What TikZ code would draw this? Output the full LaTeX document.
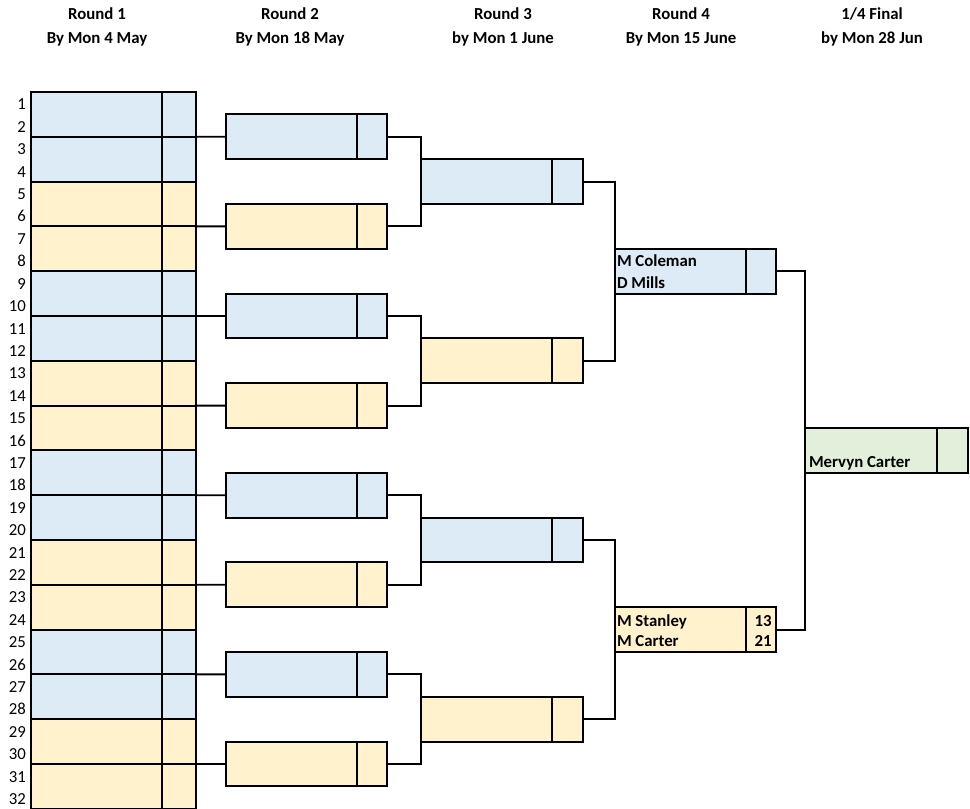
\documentclass[tikz,border=0pt]{standalone}
\usepackage{fontspec}
\setmainfont{Carlito}
\definecolor{cblue}{HTML}{DDEBF7}
\definecolor{cyel}{HTML}{FFF2CC}
\definecolor{cgreen}{HTML}{E2EFDA}
\begin{document}
\begin{tikzpicture}[x=0.75pt,y=-0.75pt,line width=1.4pt,
  cell/.style={draw=black,inner sep=0pt,outer sep=0pt,minimum height=44.8*0.75pt,anchor=west},
  txt/.style={inner sep=0pt,outer sep=0pt,font=\fontsize{12.6}{15}\selectfont},
  btxt/.style={txt,font=\fontsize{12.6}{15}\selectfont\bfseries},
  link/.style={draw=black,line width=1.4pt}]
\useasboundingbox (0,0) rectangle (970,809);

% headers
\node[btxt,anchor=base,name=h1a] at (97,20) {Round 1};
\node[btxt,anchor=base,name=h1b] at (97,43.3) {By Mon 4 May};
\node[btxt,anchor=base,name=h2a] at (290,20) {Round 2};
\node[btxt,anchor=base,name=h2b] at (290,43.3) {By Mon 18 May};
\node[btxt,anchor=base,name=h3a] at (503,20) {Round 3};
\node[btxt,anchor=base,name=h3b] at (503,43.3) {by Mon 1 June};
\node[btxt,anchor=base,name=h4a] at (681,20) {Round 4};
\node[btxt,anchor=base,name=h4b] at (681,43.3) {By Mon 15 June};
\node[btxt,anchor=base,name=h5a] at (872,20) {1/4 Final};
\node[btxt,anchor=base,name=h5b] at (872,43.3) {by Mon 28 Jun};

% row numbers
\foreach \i in {1,...,32}
  \node[txt,anchor=base east,name=rn\i] at (26,{87.6+\i*22.4}) {\i};

% round 1
\foreach \k in {1,...,16}{
  \pgfmathtruncatemacro\g{floor((\k-1)/2)}
  \ifodd\g\def\fc{cyel}\else\def\fc{cblue}\fi
  \node[cell,fill=\fc,minimum width=131*0.75pt,name=r1n\k] at (31,{92+(\k-0.5)*44.8}) {};
  \node[cell,fill=\fc,minimum width=34*0.75pt,name=r1s\k] at (r1n\k.east) {};
}

% round 2
\foreach \k in {1,...,8}{
  \ifodd\k\def\fc{cblue}\else\def\fc{cyel}\fi
  \node[cell,fill=\fc,minimum width=131*0.75pt,name=r2n\k] at (226,{92+(2*\k-1)*44.8}) {};
  \node[cell,fill=\fc,minimum width=30*0.75pt,name=r2s\k] at (r2n\k.east) {};
}

% round 3
\foreach \k in {1,...,4}{
  \ifodd\k\def\fc{cblue}\else\def\fc{cyel}\fi
  \node[cell,fill=\fc,minimum width=131*0.75pt,name=r3n\k] at (421,{92+(4*\k-2)*44.8}) {};
  \node[cell,fill=\fc,minimum width=31*0.75pt,name=r3s\k] at (r3n\k.east) {};
}

% round 4
\node[cell,fill=cblue,minimum width=130.7*0.75pt,name=r4n1] at (615,{92+4*44.8}) {};
\node[cell,fill=cblue,minimum width=30.3*0.75pt,name=r4s1] at (r4n1.east) {};
\node[cell,fill=cyel,minimum width=130.7*0.75pt,name=r4n2] at (615,{92+12*44.8}) {};
\node[cell,fill=cyel,minimum width=30.3*0.75pt,name=r4s2] at (r4n2.east) {};

% final
\node[cell,fill=cgreen,minimum width=132*0.75pt,name=fn] at (805,{92+8*44.8}) {};
\node[cell,fill=cgreen,minimum width=31*0.75pt,name=fs] at (fn.east) {};

% connectors round 1 -> round 2
\foreach \k in {1,...,8}{
  \pgfmathtruncatemacro\a{2*\k-1}
  \draw[link] (r1s\a.south east) -- (r2n\k.west);
}
% round 2 -> round 3
\foreach \k in {1,...,4}{
  \pgfmathtruncatemacro\a{2*\k-1}
  \pgfmathtruncatemacro\b{2*\k}
  \draw[link] (r2s\a.east) -| (r3n\k.west |- r2s\b.east) -- (r2s\b.east);
}
% round 3 -> round 4
\foreach \k in {1,2}{
  \pgfmathtruncatemacro\a{2*\k-1}
  \pgfmathtruncatemacro\b{2*\k}
  \draw[link] (r3s\a.east) -| (r4n\k.west |- r3s\b.east) -- (r3s\b.east);
}
% round 4 -> final
\draw[link] (r4s1.east) -| (fn.west |- r4s2.east) -- (r4s2.east);

% texts
\node[btxt,anchor=base west,name=t1] at ([shift={(2,-4.3)}]r4n1.west) {M Coleman};
\node[btxt,anchor=base west,name=t2] at ([shift={(2,17.1)}]r4n1.west) {D Mills};
\node[btxt,anchor=base west,name=t3] at ([shift={(2,-3.5)}]r4n2.west) {M Stanley};
\node[btxt,anchor=base west,name=t4] at ([shift={(2,17.3)}]r4n2.west) {M Carter};
\node[btxt,anchor=base east,name=t5] at ([shift={(-4.3,-3.5)}]r4s2.east) {13};
\node[btxt,anchor=base east,name=t6] at ([shift={(-4.3,17.3)}]r4s2.east) {21};
\node[btxt,anchor=base west,name=t7] at ([shift={(4,16.6)}]fn.west) {Mervyn Carter};
\end{tikzpicture}
\end{document}
